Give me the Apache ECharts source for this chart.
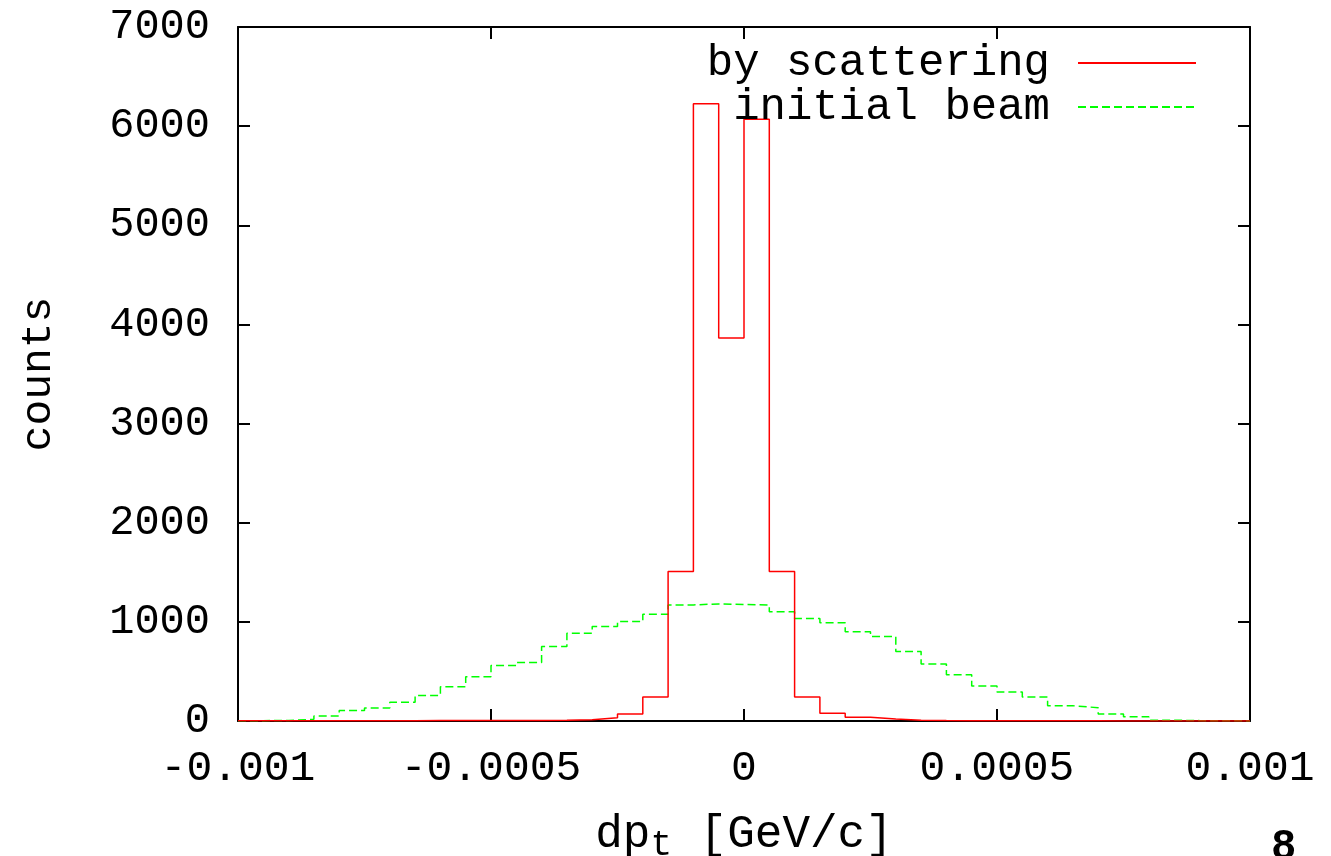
<!DOCTYPE html>
<html>
<head>
<meta charset="utf-8">
<script src="https://cdn.jsdelivr.net/npm/echarts@6/dist/echarts.min.js"></script>
<style>
html,body{margin:0;padding:0;background:#fff;}
#chart{width:1331px;height:856px;}
</style>
</head>
<body>
<div id="chart"></div>
<script>
// histogram binning (40 bins of 0.00005 from -0.001)
const binStart = -0.001;
const binWidth = 0.00005;
const xTickLabels = ['-0.001', '-0.0005', '0', '0.0005', '0.001'];
const yTickLabels = ['0', '1000', '2000', '3000', '4000', '5000', '6000', '7000'];
const seriesNames = ['by scattering', 'initial beam'];

const scatteringCounts = [
  2, 2, 2, 2, 2, 3, 3, 4, 5, 5,
  6, 5, 8, 13, 33, 70, 242, 1507, 6227, 3864,
  6069, 1507, 242, 78, 37, 20, 8, 5, 3, 3,
  2, 2, 2, 2, 1, 1, 1, 1, 1, 1
];
const initialBeamCounts = [
  3, 6, 17, 50, 107, 131, 188, 258, 346, 446,
  561, 591, 752, 886, 953, 1004, 1077, 1171, 1181, 1175,
  1171, 1101, 1034, 990, 900, 853, 702, 574, 466, 352,
  292, 242, 154, 134, 70, 43, 8, 4, 2, 1
];

function toSteps(vals) {
  const out = vals.map((v, k) => [binStart + k * binWidth, v]);
  out.push([binStart + vals.length * binWidth, vals[vals.length - 1]]);
  return out;
}

const FONT = '"Liberation Mono", "DejaVu Sans Mono", monospace';
const chart = echarts.init(document.getElementById('chart'));

const axisLine = { show: true, onZero: false, lineStyle: { color: '#000', width: 2 } };
const tick = { show: true, inside: true, length: 12, lineStyle: { color: '#000', width: 2 } };

chart.setOption({
  animation: false,
  backgroundColor: '#fff',
  grid: { left: 238, right: 81, top: 27, bottom: 135, show: false, containLabel: false, outerBoundsMode: 'none' },
  legend: {
    data: seriesNames, orient: 'vertical', align: 'right',
    right: 129, top: 36, itemWidth: 118, itemHeight: 20, itemGap: 0,
    itemStyle: { opacity: 0 },
    formatter: name => name === seriesNames[1] ? ' ' + name : name,
    textStyle: { fontFamily: FONT, fontSize: 44, color: '#000', padding: [0, 23, 0, 0] }
  },
  xAxis: [
    {
      type: 'value', min: -0.001, max: 0.001, interval: 0.0005,
      axisLine, axisTick: tick, splitLine: { show: false },
      axisLabel: {
        margin: 26, fontFamily: FONT, fontSize: 43, color: '#000',
        formatter: v => xTickLabels[Math.round((v - binStart) / 0.0005)]
      },
      name: '{a|dp}{s|t}{a| [GeV/c]}', nameLocation: 'middle', nameGap: 86,
      nameTextStyle: {
        rich: {
          a: { fontFamily: FONT, fontSize: 46, color: '#000' },
          s: { fontFamily: FONT, fontSize: 36, color: '#000', verticalAlign: 'bottom', padding: [20, 0, 0, 0] }
        }
      }
    },
    {
      type: 'value', position: 'top', min: -0.001, max: 0.001, interval: 0.0005,
      axisLine, axisTick: tick, axisLabel: { show: false }, splitLine: { show: false }
    }
  ],
  yAxis: [
    {
      type: 'value', min: 0, max: 7000, interval: 1000,
      axisLine, axisTick: tick, splitLine: { show: false },
      axisLabel: {
        margin: 28, fontFamily: FONT, fontSize: 42, color: '#000',
        formatter: v => yTickLabels[Math.round(v / 1000)]
      },
      name: 'counts', nameLocation: 'middle', nameGap: 178, nameRotate: 90,
      nameTextStyle: { fontFamily: FONT, fontSize: 43, color: '#000' }
    },
    {
      type: 'value', position: 'right', min: 0, max: 7000, interval: 1000,
      axisLine, axisTick: tick, axisLabel: { show: false }, splitLine: { show: false }
    }
  ],
  series: [
    {
      name: seriesNames[1], type: 'line', step: 'end', showSymbol: false, symbol: 'none',
      data: toSteps(initialBeamCounts),
      lineStyle: { color: '#00ff00', width: 1.5, type: [8, 4] },
      itemStyle: { color: '#00ff00' }
    },
    {
      name: seriesNames[0], type: 'line', step: 'end', showSymbol: false, symbol: 'none',
      data: toSteps(scatteringCounts),
      lineStyle: { color: '#ff0000', width: 1.5 },
      itemStyle: { color: '#ff0000' }
    }
  ],
  graphic: [
    {
      type: 'text', left: 1272, top: 826,
      style: { text: '8', fontFamily: '"Liberation Sans", Arial, sans-serif', fontSize: 42, fontWeight: 'bold', fill: '#000' }
    }
  ]
});
</script>
</body>
</html>
